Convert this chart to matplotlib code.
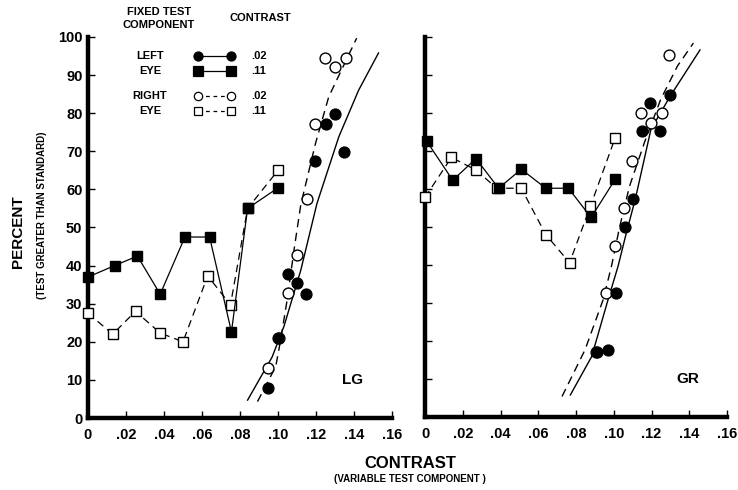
import matplotlib
matplotlib.use("Agg")
import matplotlib.pyplot as plt
from matplotlib.lines import Line2D

plt.rcParams['font.family'] = ['Liberation Sans', 'DejaVu Sans']
plt.rcParams['font.weight'] = 'bold'

# ---- LG panel (left) ----
lg_fsq_x = [0.0, 0.014, 0.026, 0.038, 0.051, 0.064, 0.0755, 0.084, 0.100]
lg_fsq_y = [37, 40, 42.5, 32.5, 47.5, 47.5, 22.6, 55, 60.4]
lg_osq_x = [0.0, 0.013, 0.025, 0.038, 0.050, 0.063, 0.075, 0.084, 0.100]
lg_osq_y = [27.5, 22, 28, 22.3, 20, 37.3, 29.7, 55, 65]
lg_fci_x = [0.0948, 0.100, 0.105, 0.110, 0.1147, 0.1197, 0.125, 0.130, 0.1346]
lg_fci_y = [8, 21, 37.8, 35.4, 32.5, 67.5, 77.2, 79.8, 69.9]
lg_oci_x = [0.0948, 0.1005, 0.105, 0.110, 0.115, 0.1194, 0.1246, 0.130, 0.1357]
lg_oci_y = [13, 21, 32.8, 42.8, 57.6, 77.2, 94.6, 92, 94.6]
lg_fit_solid_x = [0.084, 0.0969, 0.1031, 0.112, 0.1205, 0.132, 0.1424, 0.1529]
lg_fit_solid_y = [4.7, 16, 24, 38.8, 56.3, 73.8, 86, 95.8]
lg_fit_dash_x = [0.0892, 0.0988, 0.1014, 0.1048, 0.1084, 0.112, 0.1197, 0.1267, 0.1414]
lg_fit_dash_y = [4.3, 13.5, 20.5, 31, 44, 56, 72, 84.3, 99.7]

# ---- GR panel (right) ----
gr_fsq_x = [0.001, 0.0147, 0.027, 0.039, 0.051, 0.064, 0.076, 0.088, 0.1007]
gr_fsq_y = [72.5, 62.3, 68, 60.2, 65.2, 60.2, 60.2, 52.5, 62.5]
gr_osq_x = [0.0, 0.014, 0.027, 0.038, 0.051, 0.064, 0.0766, 0.0876, 0.1007]
gr_osq_y = [57.8, 68.3, 65, 60.2, 60.2, 48, 40.6, 55.4, 73.4]
gr_fci_x = [0.091, 0.097, 0.101, 0.106, 0.110, 0.1149, 0.1193, 0.1247, 0.130]
gr_fci_y = [17.2, 17.7, 32.7, 50, 57.3, 75.2, 82.6, 75.3, 84.7]
gr_oci_x = [0.0905, 0.096, 0.1007, 0.1053, 0.1098, 0.1145, 0.1198, 0.1254, 0.1294]
gr_oci_y = [17.2, 32.7, 45, 55, 67.4, 80, 77.3, 80, 95.3]
gr_fit_solid_x = [0.077, 0.0883, 0.097, 0.1023, 0.1067, 0.1114, 0.1197, 0.130, 0.1457]
gr_fit_solid_y = [5.8, 15.9, 30.9, 39.7, 48.5, 57.3, 75.7, 84.5, 96.6]
gr_fit_dash_x = [0.0726, 0.0848, 0.0944, 0.0988, 0.1032, 0.1084, 0.1163, 0.1249, 0.1338, 0.1422]
gr_fit_dash_y = [5.4, 17.7, 30.9, 39.7, 50.2, 60.8, 72.3, 83.6, 92.4, 98.4]

xticks = [0, 0.02, 0.04, 0.06, 0.08, 0.10, 0.12, 0.14, 0.16]
xtick_labels = ['0', '.02', '.04', '.06', '.08', '.10', '.12', '.14', '.16']
yticks = list(range(0, 101, 10))

W, H = 738, 490
fig = plt.figure(figsize=(W / 100, H / 100), dpi=100)
ax1 = fig.add_axes([88 / W, 1 - 418 / H, 304 / W, 381 / H])
ax2 = fig.add_axes([425 / W, 1 - 417 / H, 302 / W, 380 / H])


def draw_panel(ax, fsq, osq, fci, oci, fit_s, fit_d, name, show_ylabels):
    ax.plot(*fit_s, color='black', lw=1.0)
    ax.plot(*fit_d, color='black', lw=1.0, dashes=(6, 4))
    ax.plot(*osq, color='black', lw=0.9, dashes=(6, 4), marker='s', ms=7.8,
            mfc='white', mec='black', mew=1.0, clip_on=False, zorder=3)
    ax.plot(*fsq, color='black', lw=0.9, marker='s', ms=7.8,
            mfc='black', mec='black', clip_on=False, zorder=4)
    ax.plot(*oci, ls='none', marker='o', ms=7.8, mfc='white', mec='black',
            mew=1.0, zorder=5)
    ax.plot(*fci, ls='none', marker='o', ms=7.8, mfc='black', mec='black',
            zorder=6)
    ax.set_xlim(0, 0.16)
    ax.set_ylim(0, 100)
    for s in ['top', 'right']:
        ax.spines[s].set_visible(False)
    for s in ['left', 'bottom']:
        ax.spines[s].set_linewidth(3.2)
    ax.set_xticks(xticks)
    ax.set_xticklabels(xtick_labels)
    ax.set_yticks(yticks)
    if not show_ylabels:
        ax.set_yticklabels([])
    ax.tick_params(direction='in', length=5, width=1, labelsize=10.5, pad=7)
    ax.tick_params(axis='y', pad=4)
    ax.text(0.87, 0.1, name, transform=ax.transAxes, ha='center', va='center',
            fontsize=11, fontweight='bold')


draw_panel(ax1, (lg_fsq_x, lg_fsq_y), (lg_osq_x, lg_osq_y), (lg_fci_x, lg_fci_y),
           (lg_oci_x, lg_oci_y), (lg_fit_solid_x, lg_fit_solid_y),
           (lg_fit_dash_x, lg_fit_dash_y), 'LG', True)
draw_panel(ax2, (gr_fsq_x, gr_fsq_y), (gr_osq_x, gr_osq_y), (gr_fci_x, gr_fci_y),
           (gr_oci_x, gr_oci_y), (gr_fit_solid_x, gr_fit_solid_y),
           (gr_fit_dash_x, gr_fit_dash_y), 'GR', False)


def fx(px):
    return px / W


def fy(py):
    return 1 - py / H


# axis titles
fig.text(fx(18), fy(232), 'PERCENT', rotation=90, ha='center', va='center',
         fontsize=11, fontweight='bold')
fig.text(fx(42), fy(215), '(TEST GREATER THAN STANDARD)', rotation=90,
         ha='center', va='center', fontsize=7, fontweight='bold')
fig.text(fx(410), fy(463), 'CONTRAST', ha='center', va='center',
         fontsize=12, fontweight='bold')
fig.text(fx(410), fy(479), '(VARIABLE TEST COMPONENT )', ha='center',
         va='center', fontsize=7, fontweight='bold')

# key
fig.text(fx(159), fy(12), 'FIXED TEST', ha='center', va='center', fontsize=8)
fig.text(fx(159), fy(25), 'COMPONENT', ha='center', va='center', fontsize=8)
fig.text(fx(260), fy(18), 'CONTRAST', ha='center', va='center', fontsize=8)

key_rows = [
    ('LEFT', 56, 'o', 'black', '-', '.02'),
    ('EYE', 71, 's', 'black', '-', '.11'),
    ('RIGHT', 96, 'o', 'white', '--', '.02'),
    ('EYE', 111, 's', 'white', '--', '.11'),
]
for label, py, mk, fc, ls, val in key_rows:
    fig.text(fx(150), fy(py), label, ha='center', va='center', fontsize=8)
    ln = Line2D([fx(198), fx(231)], [fy(py), fy(py)], transform=fig.transFigure,
                color='black', lw=0.9, marker=mk, ms=6.5 if fc == 'black' else 6,
                mfc=fc, mec='black', mew=0.9)
    if ls == '--':
        ln.set_dashes((3, 3))
    fig.add_artist(ln)
    fig.text(fx(251), fy(py), val, ha='left', va='center', fontsize=8)

fig.savefig('out.png', dpi=100)
